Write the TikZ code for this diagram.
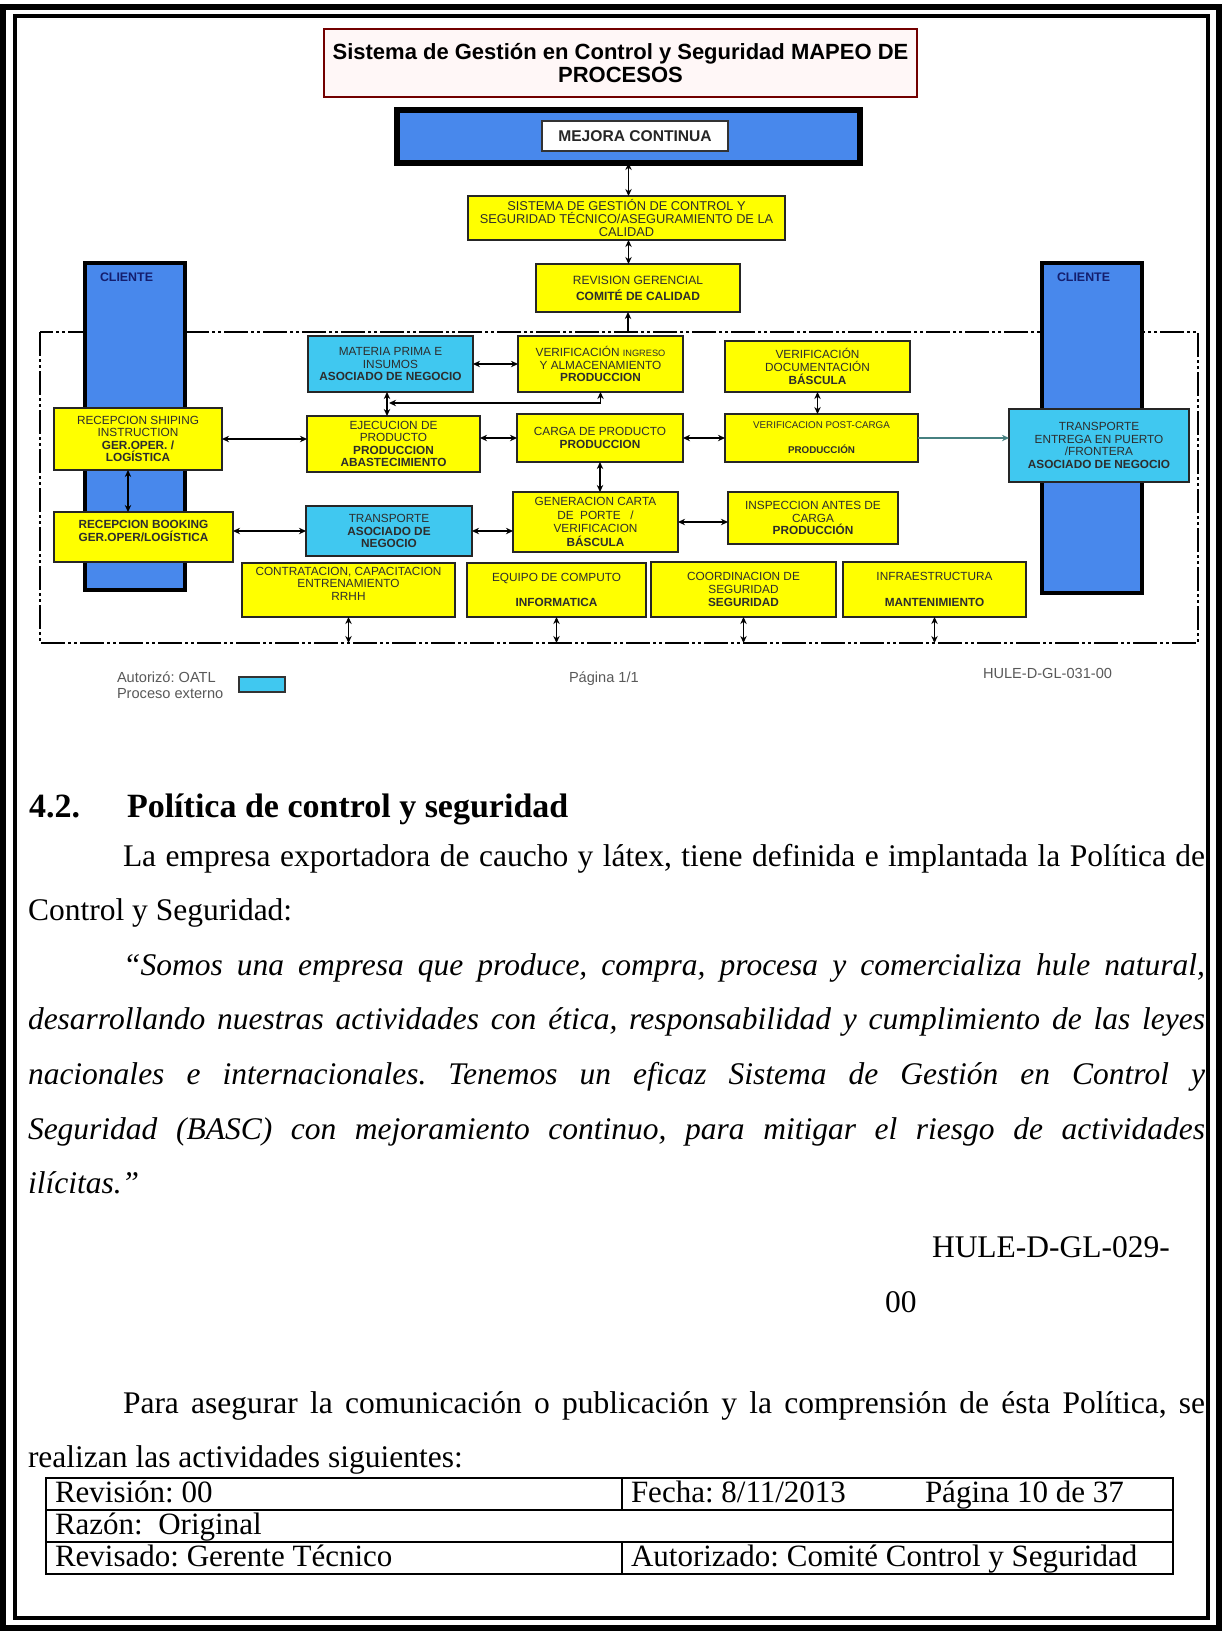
\documentclass[tikz,border=0pt]{standalone}
\usepackage{fontspec}
\setmainfont{Liberation Serif}
\newfontfamily\arialf{Liberation Sans}
\usetikzlibrary{arrows.meta}
\frenchspacing
\definecolor{ybox}{RGB}{255,255,0}
\definecolor{cbox}{RGB}{64,200,240}
\definecolor{bcol}{RGB}{72,136,236}
\definecolor{navy}{RGB}{20,30,110}
\definecolor{ttxt}{RGB}{45,45,45}
\newcommand\smf{\arialf\fontsize{5.9}{6.3}\selectfont}
\newcommand\bx[7]{%
  \pgfmathsetmacro\bxcx{(#2+#4)/2}%
  \pgfmathsetmacro\bxcy{(#3+#5)/2}%
  \pgfmathsetmacro\bxw{(#4-#2)/2}%
  \pgfmathsetmacro\bxh{(#5-#3)/2}%
  \node[#6, minimum width=\bxw pt, minimum height=\bxh pt] (#1) at (\bxcx,\bxcy) {#7};}
\begin{document}
\begin{tikzpicture}[x=0.5pt,y=-0.5pt,
  every node/.style={inner sep=0pt, outer sep=0pt},
  bb/.style={align=center, font=\smf, text=ttxt},
  ybx/.style={bb, draw=black!85, line width=0.9pt, fill=ybox},
  cbx/.style={bb, draw=black!85, line width=0.9pt, fill=cbox},
  col/.style={draw=black, line width=2.2pt, fill=bcol},
  dar/.style={line width=0.7pt, {Stealth[length=3.5pt,width=3.2pt]}-{Stealth[length=3.5pt,width=3.2pt]}},
  sar/.style={line width=0.7pt, -{Stealth[length=3.5pt,width=3.2pt]}},
  ftxt/.style={anchor=base west, font=\arialf\fontsize{7.3}{8}\selectfont, text=black!65},
  hd/.style={anchor=base west, font=\bfseries\fontsize{17}{20}\selectfont},
  bl/.style={anchor=base west, font=\fontsize{15.75}{18}\selectfont},
  tb/.style={anchor=base west, font=\fontsize{15.5}{18}\selectfont},
  tline/.style={line width=0.8pt}]
\fill[white] (0,0) rectangle (1223,1634);
\useasboundingbox (0,0) rectangle (1223,1634);
% page frame
\draw[line width=2.6pt] (3,7) rectangle (1219,1628);
\draw[line width=1.6pt] (15,16) rectangle (1208,1618);
% dashed process boundary
\draw[line width=1.1pt, dash pattern=on 12pt off 1.5pt on 1.5pt off 1.5pt on 1.5pt off 1.5pt] (40,332) rectangle (1198,643);
\coordinate (dtop) at (628,332);
\coordinate (dbot) at (0,643);
% client columns
\bx{cl}{85}{263}{185}{590}{col}{}
\bx{cr}{1042}{263}{1142}{593}{col}{}
\node[anchor=base west, font=\arialf\bfseries\fontsize{6.2}{7}\selectfont, text=navy] (cllab) at (100,281) {CLIENTE};
\node[anchor=base west, font=\arialf\bfseries\fontsize{6.2}{7}\selectfont, text=navy] (crlab) at (1057,281) {CLIENTE};
% title
\bx{title}{324}{29}{917}{97}{bb, draw=red!45!black, fill=red!3, line width=0.8pt, font=\arialf\bfseries\fontsize{11}{11.5}\selectfont, text=black}{Sistema de Gestión en Control y Seguridad MAPEO DE\\PROCESOS}
% mejora continua
\bx{mej}{397}{110}{860}{163}{draw=black, line width=2.6pt, fill=bcol}{}
\bx{mejt}{542}{121}{728}{151}{bb, draw=black!80, line width=0.8pt, fill=white, font=\arialf\bfseries\fontsize{7.8}{8}\selectfont, text=black!85}{MEJORA CONTINUA}
% top chain
\bx{sis}{468}{196}{785}{240}{ybx, font=\arialf\fontsize{6.4}{6.3}\selectfont}{SISTEMA DE GESTIÓN DE CONTROL Y\\SEGURIDAD TÉCNICO/ASEGURAMIENTO DE LA\\CALIDAD}
\bx{rev}{536}{264}{740}{312}{ybx, font=\arialf\fontsize{6.0}{8}\selectfont}{REVISION GERENCIAL\\\textbf{COMITÉ DE CALIDAD}}
% middle boxes
\bx{mat}{308}{336}{473}{392}{cbx}{MATERIA PRIMA E\\INSUMOS\\\textbf{ASOCIADO DE NEGOCIO}}
\bx{vin}{518}{336}{683}{392}{ybx}{VERIFICACIÓN {\fontsize{4.6}{5}\selectfont INGRESO}\\Y ALMACENAMIENTO\\\textbf{PRODUCCION}}
\bx{vdo}{725}{341}{910}{392}{ybx}{VERIFICACIÓN\\DOCUMENTACIÓN\\\textbf{BÁSCULA}}
\bx{shi}{54}{408}{222}{470}{ybx}{RECEPCION SHIPING\\INSTRUCTION\\\textbf{GER.OPER. /}\\\textbf{LOGÍSTICA}}
\bx{eje}{307}{416}{480}{472}{ybx}{EJECUCION DE\\PRODUCTO\\\textbf{PRODUCCION}\\\textbf{ABASTECIMIENTO}}
\bx{car}{517}{414}{683}{462}{ybx}{CARGA DE PRODUCTO\\\textbf{PRODUCCION}}
\bx{pos}{725}{414}{918}{462}{ybx, font=\arialf\fontsize{4.9}{6.3}\selectfont}{VERIFICACION POST-CARGA\\\mbox{}\\\textbf{PRODUCCIÓN}}
\bx{ten}{1009}{409}{1189}{482}{cbx}{TRANSPORTE\\ENTREGA EN PUERTO\\/FRONTERA\\\textbf{ASOCIADO DE NEGOCIO}}
\bx{boo}{54}{512}{233}{562}{ybx}{\textbf{RECEPCION BOOKING}\\\textbf{GER.OPER/LOGÍSTICA}\\\mbox{}}
\bx{tas}{306}{506}{472}{556}{cbx}{TRANSPORTE\\\textbf{ASOCIADO DE}\\\textbf{NEGOCIO}}
\bx{gen}{513}{492}{678}{552}{ybx, font=\arialf\fontsize{5.9}{6.8}\selectfont}{GENERACION CARTA\\DE \ PORTE \ \ /\\VERIFICACION\\\textbf{BÁSCULA}}
\bx{ins}{728}{492}{898}{544}{ybx}{INSPECCION ANTES DE\\CARGA\\\textbf{PRODUCCIÓN}}
% support processes
\bx{con}{242}{563}{455}{617}{ybx}{CONTRATACION, CAPACITACION\\ENTRENAMIENTO\\RRHH\\\mbox{}}
\bx{equ}{467}{563}{646}{617}{ybx}{EQUIPO DE COMPUTO\\\mbox{}\\\textbf{INFORMATICA}}
\bx{coo}{651}{562}{836}{617}{ybx}{COORDINACION DE\\SEGURIDAD\\\textbf{SEGURIDAD}}
\bx{inf}{843}{562}{1026}{617}{ybx}{INFRAESTRUCTURA\\\mbox{}\\\textbf{MANTENIMIENTO}}
% connectors
\draw[dar] (mej.south) -- (mej.south |- sis.north);
\draw[dar] (sis.south -| mej.south) -- (rev.north -| mej.south);
\draw[sar] (dtop) -- (dtop |- rev.south);
\draw[dar] (mat) -- (vin);
\coordinate (jn) at (389,403);
\draw[dar] (jn) -| (vin.south);
\draw[dar] (mat.south -| 387,0) -- (eje.north -| 387,0);
\draw[dar] (shi.east) -- (shi.east -| eje.west);
\draw[dar] (car.west -| eje.east) -- (car.west);
\draw[dar] (car.east) -- (pos.west);
\draw[dar] (vdo.south) -- (vdo.south |- pos.north);
\draw[sar, draw=teal!45!gray] (pos.east) -- (pos.east -| ten.west);
\draw[dar] (car.south) -- (car.south |- gen.north);
\draw[dar] ([xshift=-5pt]shi.south) -- ([xshift=-5pt]shi.south |- boo.north);
\draw[dar] (boo.east |- tas.west) -- (tas.west);
\draw[dar] (tas.east) -- (tas.east -| gen.west);
\draw[dar] (gen.east) -- (gen.east -| ins.west);
\draw[dar] (con.south) -- (con.south |- dbot);
\draw[dar] (equ.south) -- (equ.south |- dbot);
\draw[dar] (coo.south) -- (coo.south |- dbot);
\draw[dar] (inf.south) -- (inf.south |- dbot);
% footer of diagram
\node[ftxt] (aut) at (117,682) {Autorizó: OATL};
\node[ftxt] (pex) at (117,698) {Proceso externo};
\bx{leg}{239}{677}{285}{692}{draw=black!80, line width=0.8pt, fill=cbox}{}
\node[ftxt] (pag) at (569,682) {Página 1/1};
\node[ftxt] (hul) at (983,678) {HULE-D-GL-031-00};
% text
\node[hd] (h1) at (29,817) {4.2.};
\node[hd] (h2) at (127,817) {Política de control y seguridad};
\node[bl] (l1) at (123,866) {\makebox[541pt][s]{La empresa exportadora de caucho y látex, tiene definida e implantada la Política de}};
\node[bl] (l2) at (28,920) {Control y Seguridad:};
\node[bl] (l3) at (123,975) {\makebox[541pt][s]{\itshape “Somos una empresa que produce, compra, procesa y comercializa hule natural,}};
\node[bl] (l4) at (28,1029) {\makebox[588.5pt][s]{\itshape desarrollando nuestras actividades con ética, responsabilidad y cumplimiento de las leyes}};
\node[bl] (l5) at (28,1084) {\makebox[588.5pt][s]{\itshape nacionales e internacionales. Tenemos un eficaz Sistema de Gestión en Control y}};
\node[bl] (l6) at (28,1139) {\makebox[588.5pt][s]{\itshape Seguridad (BASC) con mejoramiento continuo, para mitigar el riesgo de actividades}};
\node[bl] (l7) at (28,1193) {\itshape ilícitas.”};
\node[bl] (hu1) at (932,1257) {HULE-D-GL-029-};
\node[bl] (hu2) at (885,1312) {00};
\node[bl] (p1) at (123,1413) {\makebox[541pt][s]{Para asegurar la comunicación o publicación y la comprensión de ésta Política, se}};
\node[bl] (p2) at (28,1467) {realizan las actividades siguientes:};
% table
\draw[tline] (46,1478) rectangle (1173,1574);
\draw[tline] (46,1510) -- (1173,1510);
\draw[tline] (46,1542) -- (1173,1542);
\draw[tline] (622,1478) -- (622,1510);
\draw[tline] (622,1542) -- (622,1574);
\node[tb] (t1) at (55,1502) {Revisión: 00};
\node[tb] (t2) at (631,1502) {Fecha: 8/11/2013};
\node[tb] (t3) at (925,1502) {Página 10 de 37};
\node[tb] (t4) at (55,1534) {Razón:\ \ Original};
\node[tb] (t5) at (55,1566) {Revisado: Gerente Técnico};
\node[tb] (t6) at (631,1566) {Autorizado: Comité Control y Seguridad};
\end{tikzpicture}
\end{document}
